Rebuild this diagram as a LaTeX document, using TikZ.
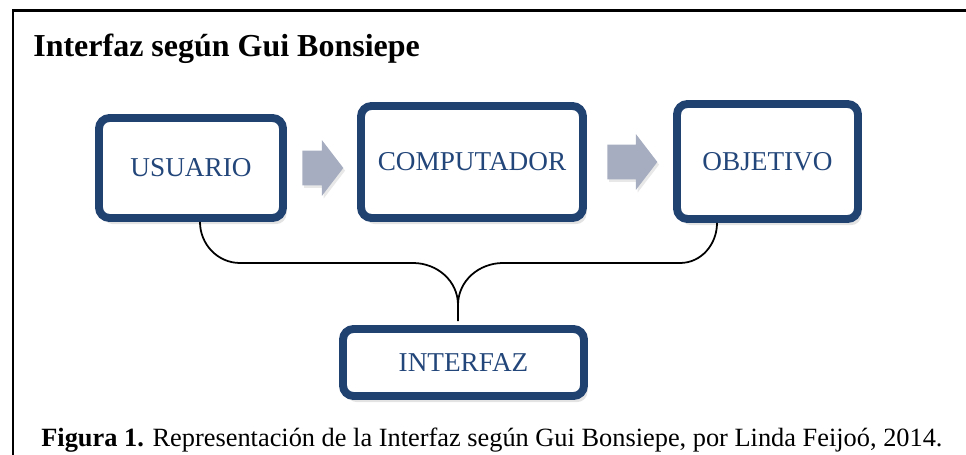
\documentclass[tikz,border=0pt]{standalone}
\usepackage{fontspec}
\setmainfont{Liberation Serif}
\usetikzlibrary{shapes,positioning,arrows.meta,shadows}
\definecolor{boxblue}{RGB}{31,66,113}
\definecolor{txtblue}{RGB}{35,70,122}
\definecolor{arrowgray}{RGB}{166,173,192}

\begin{document}
\begin{tikzpicture}[
        stage/.style={rectangle, rounded corners=6pt, draw=boxblue, line width=4.5pt, fill=white,
            text=txtblue, font=\fontsize{15.5}{18}\selectfont,
            drop shadow={opacity=0.22, shadow xshift=2pt, shadow yshift=-3.5pt}},
        blockarrow/.style={single arrow, fill=arrowgray, draw=none, inner xsep=0pt, inner ysep=0.34cm,
            text height=0pt, text depth=0pt, single arrow head extend=0.21cm, single arrow tip angle=105,
            drop shadow={opacity=0.18, shadow xshift=1pt, shadow yshift=-1.5pt}},
        link/.style={line width=1pt}
    ]
        \clip (0,0) rectangle (19.32,9.1);

        % frame and title
        \draw[line width=1.7pt] (0.26,-1) -- (0.26,8.88) -- (20,8.88);
        \node[anchor=base west, inner sep=0pt, font=\fontsize{18.2}{21}\selectfont\bfseries] (title) at (0.66,7.96) {Interfaz según Gui Bonsiepe};

        \node[stage, minimum width=3.68cm, minimum height=2.0cm] (usuario) at (3.82,5.74) {USUARIO};
        \node[stage, minimum width=4.44cm, minimum height=2.24cm] (computador) at (9.44,5.86) {COMPUTADOR};
        \node[stage, minimum width=3.62cm, minimum height=2.3cm] (objetivo) at (15.35,5.87) {OBJETIVO};
        \node[stage, minimum width=4.82cm, minimum height=1.34cm] (interfaz) at (9.27,1.85) {INTERFAZ};

        \node[blockarrow, minimum height=0.82cm, right=0.3cm of usuario] (a1) {};
        \node[blockarrow, minimum height=1.0cm, right=0.4cm of computador] (a2) {};

        % brace joining the two ends
        \coordinate (cusp) at (9.16,3.0);
        \coordinate (tip) at ([xshift=-0.11cm, yshift=0.08cm]interfaz.north);
        \draw[link] ([xshift=0.18cm]usuario.south) to[out=-90, in=180] (4.8,3.84) -- (8.26,3.84)
            to[out=0, in=90] (cusp) -- (tip);
        \draw[link] ([xshift=-1.01cm]objetivo.south) to[out=-90, in=0] (13.6,3.84) -- (10.06,3.84)
            to[out=180, in=90] (cusp);

        \node[anchor=base west, inner sep=0pt, font=\fontsize{15}{18}\selectfont] (caption) at (0.82,0.16)
            {\textbf{Figura 1.} Representación de la Interfaz según Gui Bonsiepe, por Linda Feijoó, 2014.};
    \end{tikzpicture}
\end{document}
